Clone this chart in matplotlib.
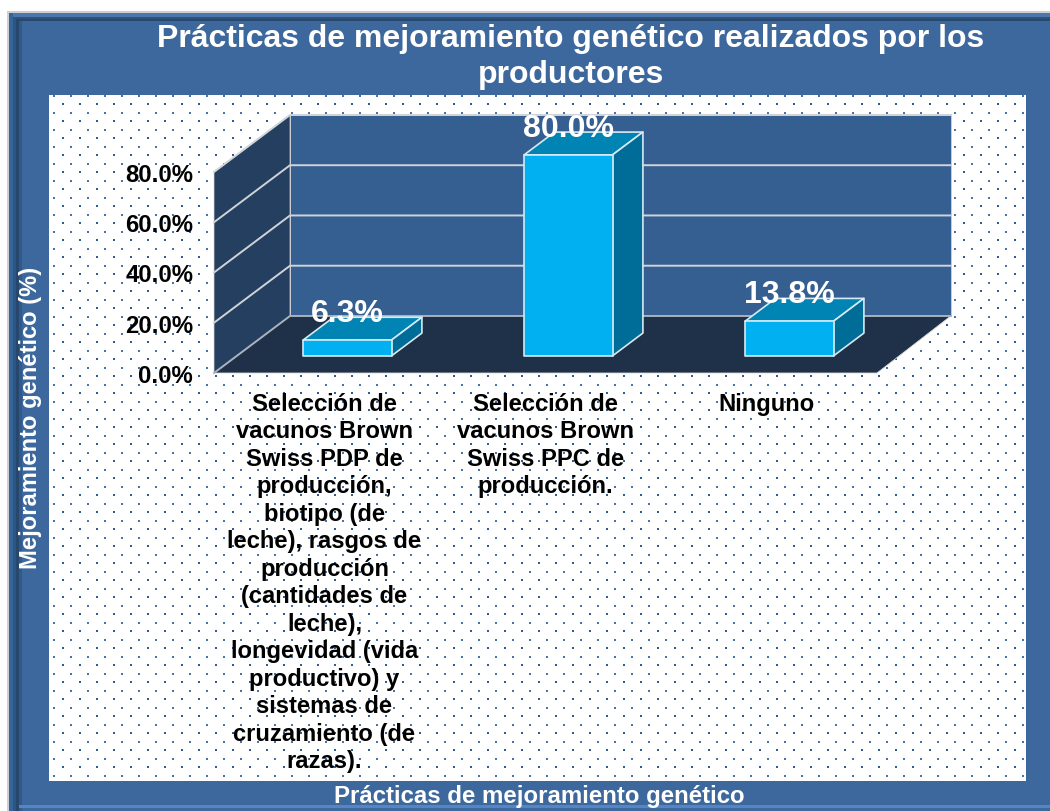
import matplotlib.pyplot as plt
import numpy as np
from matplotlib.patches import Polygon, Rectangle

plt.rcParams['font.family'] = ['Liberation Sans', 'DejaVu Sans']

categories = [
    'Selección de\nvacunos Brown\nSwiss PDP de\nproducción,\nbiotipo (de\nleche), rasgos de\nproducción\n(cantidades de\nleche),\nlongevidad (vida\nproductivo) y\nsistemas de\ncruzamiento (de\nrazas).',
    'Selección de\nvacunos Brown\nSwiss PPC de\nproducción.',
    'Ninguno',
]
values = [6.3, 80.0, 13.8]
ticks = [0, 20, 40, 60, 80]
title = 'Prácticas de mejoramiento genético realizados por los\nproductores'
xlabel = 'Prácticas de mejoramiento genético'
ylabel = 'Mejoramiento genético (%)'

W, H = 1050, 812
fig = plt.figure(figsize=(W / 100, H / 100), dpi=100)
fig.patch.set_facecolor('white')

# background frame, in pixels
bg = fig.add_axes([0, 0, 1, 1])
bg.set_xlim(0, W)
bg.set_ylim(H, 0)
bg.axis('off')
bg.add_patch(Rectangle((7, 12), W - 7, H - 12, fc='#CFCFCF', ec='none'))
bg.add_patch(Rectangle((9, 14), W - 9, H - 14, fc='#3D689D', ec='none'))
bg.add_patch(Rectangle((9, 14), W - 9, 4, fc='#4B77AE', ec='none'))
bg.add_patch(Rectangle((12, 18), W - 12, 2, fc='#2F5378', ec='none'))
bg.add_patch(Rectangle((13, 20), W - 13, 2, fc='#27486C', ec='none'))
bg.add_patch(Rectangle((9, 14), 4, H - 14, fc='#35659B', ec='none'))
bg.add_patch(Rectangle((13, 18), 3, H - 18, fc='#2C5682', ec='none'))
bg.add_patch(Rectangle((16, 20), 3, H - 20, fc='#27486C', ec='none'))
bg.add_patch(Rectangle((19, 22), 3, H - 22, fc='#305A8C', ec='none'))
bg.add_patch(Rectangle((22, 22), W - 22, H - 22, fc='#3D689D', ec='none'))
bg.add_patch(Rectangle((19, H - 6), W - 19, 3, fc='#5585C2', ec='none'))

# dotted panel
bg.add_patch(Rectangle((49, 96), 977, 686, fc='white', ec='none'))
xa, ya = np.meshgrid(np.arange(54.3, 1026, 17), np.arange(96.7, 780, 17))
xb, yb = np.meshgrid(np.arange(62.8, 1026, 17), np.arange(105.2, 780, 17))
bg.scatter(xa.ravel(), ya.ravel(), s=1.7, marker='s', color='#4A72A8', lw=0)
bg.scatter(xb.ravel(), yb.ravel(), s=0.9, marker='s', color='#2F5C96', lw=0)

# chart, front plane of the box
ax = fig.add_axes([214 / W, (H - 374) / H, 663 / W, 201 / H])
ax.patch.set_alpha(0)
ax.set_xlim(0, 3)
ax.set_ylim(0, 80)
for s in ax.spines.values():
    s.set_visible(False)

DX = 0.344   # depth of the box in x units
DY = 22.7    # depth of the box in y units
BACK = 2.99 + DX
FRONT = 0.3  # bars start this far into the depth
DEEP = 0.4   # depth of a bar
BAR = 0.4    # width of a bar
EDGE = '#D9D9D9'


def poly(pts, fc, ec='none', lw=0.0, z=1):
    ax.add_patch(Polygon(pts, closed=True, fc=fc, ec=ec, lw=lw, zorder=z,
                         clip_on=False, joinstyle='round'))


poly([(DX, DY), (BACK, DY), (BACK, DY + 80), (DX, DY + 80)], '#365F91', EDGE, 0.5)
poly([(0, 0), (DX, DY), (DX, DY + 80), (0, 80)], '#243F60', EDGE, 0.5)
poly([(0, 0), (3, 0), (BACK, DY), (DX, DY)], '#1F3049', EDGE, 0.6)

for t in ticks:
    c = '#A8B0BA' if t == 0 else '#D0D3D8'
    ax.plot([0, DX, BACK], [t, t + DY, t + DY], color=c, lw=1.4, zorder=2, clip_on=False)

for i, v in enumerate(values):
    x0 = i + 0.5 - BAR / 2 + FRONT * DX
    x1 = x0 + BAR
    y0 = FRONT * DY
    ddx = DEEP * DX
    ddy = DEEP * DY
    poly([(x0, y0 + v), (x1, y0 + v), (x1 + ddx, y0 + v + ddy), (x0 + ddx, y0 + v + ddy)],
         '#0084B4', '#D5EAF3', 1.2, 3)
    poly([(x1, y0), (x1 + ddx, y0 + ddy), (x1 + ddx, y0 + v + ddy), (x1, y0 + v)],
         '#006C98', '#D5EAF3', 1.2, 3)
    poly([(x0, y0), (x1, y0), (x1, y0 + v), (x0, y0 + v)],
         '#00B0F0', '#D5EAF3', 1.2, 4)
    ax.annotate('%.1f%%' % v, (x0 + BAR / 2, y0 + v), xytext=(0, 19.5), textcoords='offset points',
                ha='center', va='center', color='white', fontsize=23, fontweight='bold',
                zorder=6, annotation_clip=False)

ax.set_yticks(ticks)
ax.set_yticklabels(['%.1f%%' % t for t in ticks], fontsize=17.2, fontweight='bold', color='black')
ax.set_xticks([0.5, 1.5, 2.5])
ax.set_xticklabels(categories, fontsize=17.1, fontweight='bold', color='black', linespacing=1.25)
ax.tick_params(axis='y', length=0, pad=15)
ax.tick_params(axis='x', length=0, pad=13.5)

fig.text(571 / W, 1 - 57 / H, title, ha='center', va='center', color='white',
         fontsize=23, fontweight='bold', linespacing=1.26)
fig.text(539.5 / W, 1 - 797 / H, xlabel, ha='center', va='center', color='white',
         fontsize=17.3, fontweight='bold')
fig.text(31 / W, 1 - 418 / H, ylabel, ha='center', va='center', rotation=90, color='white',
         fontsize=17.1, fontweight='bold')

fig.savefig('out.png', dpi=100)
